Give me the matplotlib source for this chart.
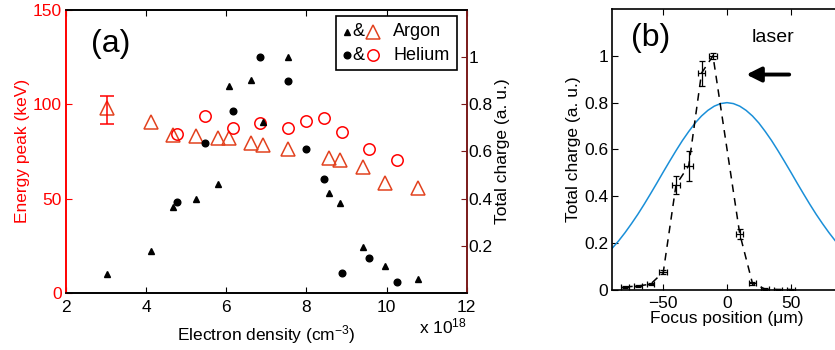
import matplotlib.pyplot as plt
from matplotlib.patches import Rectangle

plt.rcParams['font.family'] = ['Liberation Sans', 'DejaVu Sans']
plt.rcParams['mathtext.fontset'] = 'custom'
plt.rcParams['mathtext.rm'] = 'Liberation Sans'
plt.rcParams['mathtext.it'] = 'Liberation Sans:italic'
plt.rcParams['xtick.direction'] = 'in'
plt.rcParams['ytick.direction'] = 'in'

# ---- panel (a) data (density in 1e18 cm^-3) ----
ar_dens = [3.02, 4.13, 4.66, 5.24, 5.80, 6.07, 6.62, 6.91, 7.53, 8.56, 8.83, 9.40, 9.96, 10.79]
ar_energy = [98.0, 90.8, 83.7, 83.2, 82.0, 82.0, 79.3, 78.4, 76.1, 71.4, 70.5, 66.9, 58.1, 55.5]
ar_charge = [0.081, 0.176, 0.365, 0.40, 0.46, 0.875, 0.903, 0.726, 1.0, 0.424, 0.382, 0.194, 0.115, 0.058]
ar_err_first = 7.5

he_dens = [4.77, 5.48, 6.17, 6.83, 7.53, 8.0, 8.43, 8.89, 9.57, 10.27]
he_energy = [84.3, 94.0, 87.6, 89.9, 87.6, 91.2, 92.9, 85.2, 76.2, 70.5]
he_charge = [0.384, 0.637, 0.771, 1.0, 0.899, 0.611, 0.481, 0.084, 0.150, 0.048]

# ---- panel (b) data ----
focus = [-80, -70, -60, -50, -40, -30, -20, -11, 10, 20, 30, 40, 50]
charge_b = [0.013, 0.017, 0.025, 0.076, 0.449, 0.531, 0.926, 1.0, 0.240, 0.028, 0.004, 0.002, 0.002]
charge_b_err = [0.004, 0.004, 0.005, 0.008, 0.038, 0.064, 0.053, 0.012, 0.021, 0.006, 0.003, 0.003, 0.003]
focus_err = [3, 3, 3, 3, 2.8, 3.4, 3, 3, 2.6, 3, 3, 3, 3]

laser_z = [-95, -90, -85, -80, -75, -70, -65, -60, -55, -50, -45, -40, -35, -30, -25, -20, -15, -10, -5, 0,
           5, 10, 15, 20, 25, 30, 35, 40, 45, 50, 55, 60, 65, 70, 75, 80, 85, 90, 95]
laser_I = [0.151, 0.179, 0.210, 0.245, 0.283, 0.323, 0.366, 0.411, 0.457, 0.504, 0.550, 0.595, 0.638, 0.677,
           0.713, 0.743, 0.767, 0.785, 0.796, 0.800, 0.796, 0.785, 0.767, 0.743, 0.713, 0.677, 0.638, 0.595,
           0.550, 0.504, 0.457, 0.411, 0.366, 0.323, 0.283, 0.245, 0.210, 0.179, 0.151]

red = '#ff0000'
tri_red = '#e2421f'
dark_red = '#7a1a1a'
blue = '#1a8fd8'
fs = 12.5

fig = plt.figure(figsize=(8.35, 3.5), dpi=100)

# ================= panel (a) =================
ax = fig.add_axes([0.079, 0.163, 0.48, 0.809])
ax2 = ax.twinx()

ax.plot(ar_dens, ar_energy, linestyle='none', marker='^', markersize=9.5,
        markerfacecolor='none', markeredgecolor=tri_red, markeredgewidth=1.1)
ax.plot(he_dens, he_energy, linestyle='none', marker='o', markersize=8.2,
        markerfacecolor='none', markeredgecolor=red, markeredgewidth=1.1)
ax.errorbar([ar_dens[0]], [ar_energy[0] - 1], yerr=[ar_err_first], fmt='none',
            ecolor=red, capsize=5, elinewidth=1.1, capthick=1.1)

ax2.plot(ar_dens, ar_charge, linestyle='none', marker='^', markersize=4.8, color='black')
ax2.plot(he_dens, he_charge, linestyle='none', marker='o', markersize=4.8, color='black')

ax.set_xlim(2, 12)
ax.set_ylim(0, 150)
ax2.set_ylim(0, 1.2)
ax.set_xticks([2, 4, 6, 8, 10, 12])
ax.set_yticks([0, 50, 100, 150])
ax2.set_yticks([0.2, 0.4, 0.6, 0.8, 1.0])
ax2.set_yticklabels(['0.2', '0.4', '0.6', '0.8', '1'])

ax.tick_params(axis='y', colors=red, labelsize=fs, length=4, pad=3)
ax.tick_params(axis='x', labelsize=fs, length=4, top=True, pad=5)
ax2.tick_params(axis='y', labelsize=fs, length=4, color=dark_red, labelcolor='black', pad=1)

ax.set_ylabel('Energy peak (keV)', color=red, fontsize=fs, labelpad=2)
ax2.set_ylabel('Total charge (a. u.)', fontsize=fs)
ax2.yaxis.set_label_coords(1.071, 0.5)
ax.set_xlabel('Electron density (cm$^{-3}$)', fontsize=fs, labelpad=6)

for a in (ax, ax2):
    a.spines['left'].set_color(red)
    a.spines['right'].set_color(dark_red)
    a.spines['top'].set_color('black')
    a.spines['bottom'].set_color('black')
    for s in a.spines.values():
        s.set_linewidth(1.2)

ax.text(1.0, -0.12, 'x 10$^{18}$', transform=ax.transAxes, ha='right', va='center', fontsize=fs)
ax.text(0.063, 0.88, '(a)', transform=ax.transAxes, ha='left', va='center', fontsize=23)

# legend drawn by hand
ax2.add_patch(Rectangle((0.674, 0.788), 0.302, 0.191, transform=ax2.transAxes,
                        facecolor='white', edgecolor='black', linewidth=1.2, zorder=5))
rows = [(0.923, '^', tri_red, 'Argon'), (0.839, 'o', red, 'Helium')]
for ry, mk, mc, lab in rows:
    ax2.plot([0.700], [ry], transform=ax2.transAxes, marker=mk, markersize=4.8, color='black',
             linestyle='none', zorder=6, clip_on=False)
    ax2.text(0.729, ry, '&', transform=ax2.transAxes, ha='center', va='center', fontsize=13, zorder=6)
    ax2.plot([0.765], [ry], transform=ax2.transAxes, marker=mk, markersize=9.5 if mk == '^' else 8.2,
             markerfacecolor='none', markeredgecolor=mc, markeredgewidth=1.1,
             linestyle='none', zorder=6, clip_on=False)
    ax2.text(0.817, ry, lab, transform=ax2.transAxes, ha='left', va='center', fontsize=13, zorder=6)

# ================= panel (b) =================
bx = fig.add_axes([0.7333, 0.1714, 0.2747, 0.803])
bx.plot(laser_z, laser_I, color=blue, linewidth=1.1)
bx.errorbar(focus, charge_b, yerr=charge_b_err, xerr=focus_err, color='black',
            linestyle=(0, (5, 4)), linewidth=1.1, elinewidth=0.9, capsize=2, capthick=0.9)

bx.set_xlim(-90, 90)
bx.set_ylim(0, 1.2)
bx.set_xticks([-50, 0, 50])
bx.set_xticklabels(['\u221250', '0', '50'])
bx.set_yticks([0, 0.2, 0.4, 0.6, 0.8, 1.0])
bx.set_yticklabels(['0', '0.2', '0.4', '0.6', '0.8', '1'])
bx.tick_params(labelsize=fs, length=4, top=True, right=True, pad=3)
bx.tick_params(axis='x', pad=4)
bx.set_xlabel('Focus position (\u03bcm)', fontsize=fs, labelpad=0)
bx.set_ylabel('Total charge (a. u.)', fontsize=fs, labelpad=2)
for s in bx.spines.values():
    s.set_linewidth(1.2)

bx.text(-75, 1.075, '(b)', ha='left', va='center', fontsize=23)
bx.text(36, 1.077, 'laser', ha='center', va='center', fontsize=14)
bx.annotate('', xy=(13, 0.92), xytext=(51, 0.92),
            arrowprops=dict(arrowstyle='-|>', color='black', lw=2.8, mutation_scale=22))

fig.savefig('out.png', dpi=100)
